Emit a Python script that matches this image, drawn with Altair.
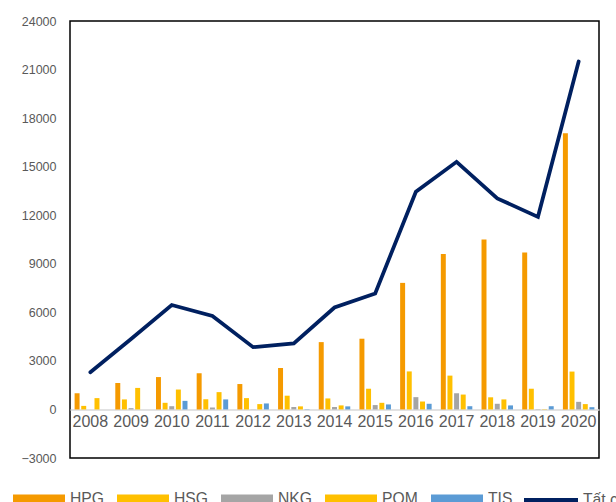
import altair as alt
import pandas as pd

years = [str(y) for y in range(2008, 2021)]
series_names = ["HPG", "HSG", "NKG", "POM", "TIS"]
series_colors = ["#F59A00", "#FFC000", "#A5A5A5", "#FFC000", "#5B9BD5"]

HPG = [1000, 1630, 2000, 2230, 1570, 2560, 4160, 4370, 7820, 9600, 10500, 9700, 17070]
HSG = [220, 620, 410, 630, 700, 850, 680, 1280, 2350, 2090, 750, 1280, 2340]
NKG = [0, 80, 200, 120, 10, 150, 150, 270, 760, 1000, 350, 20, 470]
POM = [700, 1330, 1230, 1070, 330, 190, 250, 410, 490, 920, 620, 20, 330]
TIS = [0, 0, 530, 620, 370, 20, 190, 310, 350, 200, 250, 200, 140]
TOTAL = [2300, 4350, 6450, 5770, 3850, 4080, 6300, 7170, 13450, 15300, 13040, 11900, 21500]
total_name = "Tất cả"

rows = []
for name, vals in zip(series_names, [HPG, HSG, NKG, POM, TIS]):
    for y, v in zip(years, vals):
        rows.append({"year": y, "series": name, "value": v})
bars_df = pd.DataFrame(rows)
line_df = pd.DataFrame({"year": years, "value": TOTAL, "series": [total_name] * len(years)})

FONT = "Liberation Sans"
TXT = "#595959"

x_enc = alt.X(
    "year:N",
    sort=years,
    title=None,
    scale=alt.Scale(paddingInner=0.226, paddingOuter=0.113),
    axis=alt.Axis(
        offset=-48.6,
        domainColor="#D9D9D9",
        domainWidth=1.5,
        ticks=False,
        labelAngle=0,
        labelFontSize=16,
        labelColor=TXT,
        labelFont=FONT,
        labelPadding=4,
    ),
)
y_scale = alt.Scale(domain=[-3000, 24000], nice=False)
y_axis = alt.Axis(
    values=list(range(-3000, 24001, 3000)),
    format="d",
    grid=False,
    ticks=False,
    domain=False,
    labelFontSize=12.5,
    labelColor=TXT,
    labelFont=FONT,
    labelPadding=14,
)

bars = alt.Chart(bars_df).mark_bar().encode(
    x=x_enc,
    xOffset=alt.XOffset("series:N", sort=series_names, scale=alt.Scale(paddingInner=0.25)),
    y=alt.Y("value:Q", scale=y_scale, axis=y_axis, title=None),
    color=alt.Color(
        "series:N",
        sort=series_names,
        scale=alt.Scale(domain=series_names, range=series_colors),
        legend=alt.Legend(
            title=None,
            orient="none",
            legendX=-57,
            legendY=452,
            direction="horizontal",
            columns=5,
            symbolType="M-1,-0.175L1,-0.175L1,0.175L-1,0.175Z",
            symbolSize=2704,
            symbolStrokeWidth=0,
            labelFontSize=15.7,
            labelColor=TXT,
            labelFont=FONT,
            labelOffset=5,
            columnPadding=13,
            padding=0,
        ),
    ),
)

line = alt.Chart(line_df).mark_line(strokeWidth=3.75, strokeCap="round").encode(
    x=alt.X("year:N", sort=years),
    y=alt.Y("value:Q", scale=y_scale),
    stroke=alt.Stroke(
        "series:N",
        scale=alt.Scale(domain=[total_name], range=["#002060"]),
        legend=alt.Legend(
            title=None,
            orient="none",
            legendX=452,
            legendY=450,
            direction="horizontal",
            symbolType="stroke",
            symbolSize=2916,
            symbolStrokeWidth=4,
            labelFontSize=15.7,
            labelColor=TXT,
            labelFont=FONT,
            labelOffset=3,
            padding=0,
        ),
    ),
)

chart = (
    alt.layer(bars, line)
    .properties(
        width=529,
        height=437,
        autosize=alt.AutoSizeParams(type="none"),
        padding={"left": 70, "top": 21, "right": 17, "bottom": 44},
        background="white",
    )
    .configure_view(stroke="black", strokeWidth=1.5)
)

chart.save("out.html", embed_options={"renderer": "svg", "actions": False})
